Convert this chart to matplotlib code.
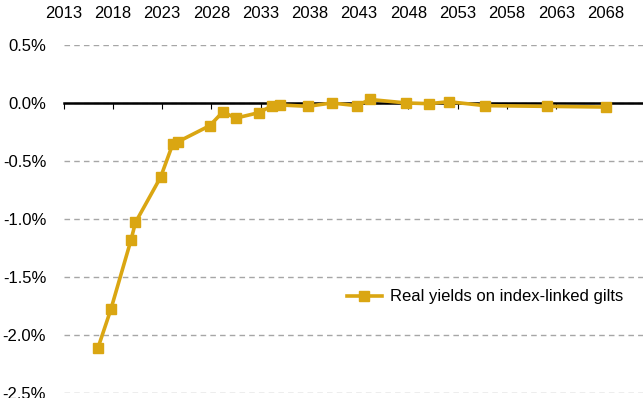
import matplotlib.pyplot as plt
from matplotlib.ticker import FuncFormatter

plt.rcParams['font.family'] = ['Liberation Sans', 'DejaVu Sans']

# maturity (decimal year) and real yield in %
years = [2016.5, 2017.8, 2019.85, 2020.3, 2022.85, 2024.1, 2024.6, 2027.85, 2029.15,
         2030.5, 2032.8, 2034.2, 2035.0, 2037.8, 2040.2, 2042.75, 2044.1, 2047.8,
         2050.1, 2052.1, 2055.75, 2062.05, 2068.0]
yields = [-2.11, -1.78, -1.18, -1.03, -0.64, -0.35, -0.335, -0.195, -0.078,
          -0.13, -0.084, -0.023, -0.017, -0.029, 0.0, -0.023, 0.03, 0.0,
          -0.006, 0.011, -0.023, -0.029, -0.035]
xticks = list(range(2013, 2069, 5))
yticks = [0.5, 0.0, -0.5, -1.0, -1.5, -2.0, -2.5]

fig = plt.figure(figsize=(6.43, 3.98), dpi=100)
ax = fig.add_axes([0.0988, 0.0126, 0.9012, 0.8744])

ax.plot(years, yields, color='#DAA612', lw=2.6, marker='s', markersize=6.8,
        label='Real yields on index-linked gilts', zorder=3)

ax.set_xlim(2013, 2071.8)
ax.set_ylim(-2.5, 0.5)
ax.set_xticks(xticks)
ax.set_yticks(yticks)
ax.yaxis.set_major_formatter(FuncFormatter(lambda v, p: f"{v:.1f}%".replace('-0.0', '0.0')))

for s in ['top', 'right', 'left']:
    ax.spines[s].set_visible(False)
ax.spines['bottom'].set_position(('data', 0))
ax.spines['bottom'].set_linewidth(1.8)
ax.spines['bottom'].set_zorder(2.5)

ax.tick_params(axis='x', bottom=True, top=False, labelbottom=False, labeltop=True,
               direction='out', length=4, width=0.8, pad=13, labelsize=12)
ax.tick_params(axis='y', left=False, pad=9, labelsize=12)

ax.yaxis.grid(True, color='#a6a6a6', linestyle=(0, (4, 3)), lw=1.0)
ax.set_axisbelow(True)

ax.legend(loc='center left', bbox_to_anchor=(0.489, 0.276), frameon=False, fontsize=12,
          borderpad=0, borderaxespad=0, handlelength=2.1, handletextpad=0.5)

fig.savefig('out.png', dpi=100)
